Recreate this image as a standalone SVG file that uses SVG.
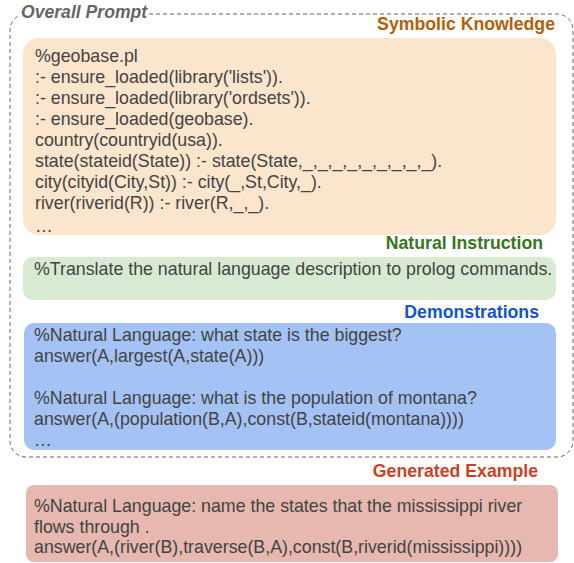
<svg xmlns="http://www.w3.org/2000/svg" width="574" height="563" viewBox="0 0 574 563">
<style>
.body{font-family:"Liberation Sans",Arial,sans-serif;font-size:17.8px;fill:#434343}
.lbl{font-family:"Liberation Sans",Arial,sans-serif;font-size:17.7px;font-weight:bold;text-anchor:end}
.title{font-family:"Liberation Sans",Arial,sans-serif;font-size:17.6px;font-weight:bold;font-style:italic;fill:#666666}
</style>
<rect width="574" height="563" fill="#ffffff"/>
<g id="overall-prompt">
<path d="M149,14 H557 A16,16 0 0 1 573,30 V441 A16,16 0 0 1 557,457 H26 A16,16 0 0 1 10,441 V30 A16,16 0 0 1 18,16.1" fill="none" stroke="#666666" stroke-width="1" stroke-dasharray="4,3"/>
<text class="title" x="21" y="18">Overall Prompt</text>
</g>
<g id="symbolic-knowledge">
<text class="lbl" x="555" y="30" fill="#b45f06">Symbolic Knowledge</text>
<rect x="23" y="38" width="533" height="197" rx="16" fill="#fce5cd"/>
<text class="body" x="35" y="62">%geobase.pl</text>
<text class="body" x="35" y="83">:- ensure_loaded(library('lists')).</text>
<text class="body" x="35" y="104">:- ensure_loaded(library('ordsets')).</text>
<text class="body" x="35" y="125">:- ensure_loaded(geobase).</text>
<text class="body" x="35" y="146">country(countryid(usa)).</text>
<text class="body" x="35" y="167">state(stateid(State)) :- state(State,_,_,_,_,_,_,_,_,_).</text>
<text class="body" x="35" y="188">city(cityid(City,St)) :- city(_,St,City,_).</text>
<text class="body" x="35" y="209">river(riverid(R)) :- river(R,_,_).</text>
<text class="body" x="35" y="232">…</text>
</g>
<g id="natural-instruction">
<text class="lbl" x="543" y="249" fill="#38761d">Natural Instruction</text>
<rect x="23" y="257" width="533" height="43" rx="10" fill="#d9ead3"/>
<text class="body" x="34" y="275">%Translate the natural language description to prolog commands.</text>
</g>
<g id="demonstrations">
<text class="lbl" x="539" y="318" fill="#1155cc">Demonstrations</text>
<rect x="24" y="323" width="532" height="127" rx="10" fill="#a4c2f4"/>
<text class="body" x="34" y="341">%Natural Language: what state is the biggest?</text>
<text class="body" x="34" y="362">answer(A,largest(A,state(A)))</text>
<text class="body" x="34" y="404">%Natural Language: what is the population of montana?</text>
<text class="body" x="34" y="425">answer(A,(population(B,A),const(B,stateid(montana))))</text>
<text class="body" x="34" y="446">…</text>
</g>
<g id="generated-example">
<text class="lbl" x="538" y="477" fill="#cc4125">Generated Example</text>
<rect x="26" y="485" width="532" height="77" rx="8" fill="#e6b8af"/>
<text class="body" x="34" y="512">%Natural Language: name the states that the mississippi river</text>
<text class="body" x="34" y="532.5">flows through .</text>
<text class="body" x="34" y="553">answer(A,(river(B),traverse(B,A),const(B,riverid(mississippi))))</text>
</g>
<g id="connectors"></g>
</svg>
